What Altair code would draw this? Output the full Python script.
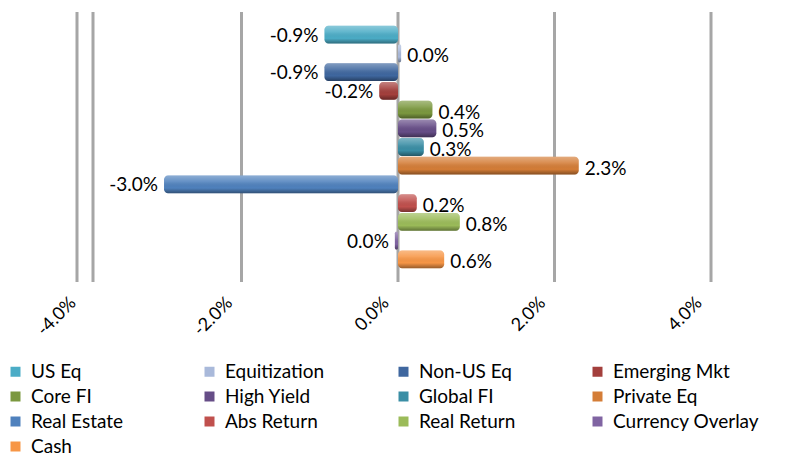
import altair as alt
import pandas as pd

categories = ["US Eq", "Equitization", "Non-US Eq", "Emerging Mkt", "Core FI",
              "High Yield", "Global FI", "Private Eq", "Real Estate", "Abs Return",
              "Real Return", "Currency Overlay", "Cash"]
values = [-0.0094, 0.0004, -0.0094, -0.0024, 0.0044, 0.0049, 0.0033, 0.0231,
          -0.0299, 0.0024, 0.0079, -0.0004, 0.0059]
labels = ["-0.9%", "0.0%", "-0.9%", "-0.2%", "0.4%", "0.5%", "0.3%", "2.3%",
          "-3.0%", "0.2%", "0.8%", "0.0%", "0.6%"]
colors = ["#4BACC6", "#A9B9DA", "#3F679F", "#A33F3C", "#7B983F", "#664D87",
          "#3A8EA5", "#D47D37", "#4F81BD", "#C0504D", "#9BBB59", "#8064A2", "#F79646"]
axis_ticks = [-0.04, -0.02, 0.0, 0.02, 0.04]

df = pd.DataFrame({"cat": categories, "val": values, "lab": labels})
df["side"] = ["neg" if v < 0 else "pos" for v in values]
grid_df = pd.DataFrame({"t": axis_ticks[1:]})
wall_df = pd.DataFrame({"t": axis_ticks[:1]})

FONT = "Lato"
GRID = "#a6a6a6"

xscale = alt.Scale(domain=[-0.04, 0.04], nice=False, zero=False)
x = alt.X("val:Q", scale=xscale,
          axis=alt.Axis(values=axis_ticks, title=None, domain=False,
                        labelExpr="(datum.value < 0 ? '-' : '') + format(abs(datum.value) * 100, '.1f') + '%'",
                        ticks=False, grid=False,
                        labelAngle=315, labelAlign="right", labelBaseline="middle",
                        labelFontSize=18, labelFont=FONT, labelColor="#000000",
                        labelPadding=18, labelOffset=-12))
y = alt.Y("cat:N", sort=categories, axis=None,
          scale=alt.Scale(paddingInner=0.05, paddingOuter=0.74))

grid = alt.Chart(grid_df).mark_rule(color=GRID, strokeWidth=3).encode(
    x=alt.X("t:Q", scale=xscale))
wall_l = alt.Chart(wall_df).mark_rule(color=GRID, strokeWidth=3, xOffset=-8).encode(
    x=alt.X("t:Q", scale=xscale))
wall_r = alt.Chart(wall_df).mark_rule(color=GRID, strokeWidth=3, xOffset=8).encode(
    x=alt.X("t:Q", scale=xscale))

bars = alt.Chart(df).mark_bar(cornerRadius=4).encode(
    x=x, x2=alt.datum(0), y=y,
    color=alt.Color("cat:N", sort=categories,
                    scale=alt.Scale(domain=categories, range=colors),
                    legend=alt.Legend(title=None, orient="none", legendX=-79, legendY=350,
                                      direction="horizontal",
                                      columns=4, gridAlign="all", columnPadding=22,
                                      rowPadding=5, symbolType="square", symbolSize=100,
                                      symbolStrokeWidth=0, labelFontSize=19, labelFont=FONT,
                                      labelColor="#000000", labelOffset=6, padding=0,
                                      labelLimit=300))
)

shade = alt.Chart(df).mark_bar(cornerRadius=4, color=alt.Gradient(
    gradient="linear",
    stops=[alt.GradientStop(offset=0, color="rgba(255,255,255,0.35)"),
           alt.GradientStop(offset=0.35, color="rgba(255,255,255,0.12)"),
           alt.GradientStop(offset=0.7, color="rgba(0,0,0,0.0)"),
           alt.GradientStop(offset=1, color="rgba(0,0,0,0.38)")],
    x1=0, x2=0, y1=0, y2=1)).encode(x=alt.X("val:Q"), x2=alt.datum(0), y=y)

text_pos = alt.Chart(df).transform_filter(alt.datum.side == "pos").mark_text(
    align="left", baseline="middle", dx=6, dy=3, fontSize=19, font=FONT, color="#000000"
).encode(x=alt.X("val:Q"), y=y, text="lab:N")

text_neg = alt.Chart(df).transform_filter(alt.datum.side == "neg").mark_text(
    align="right", baseline="middle", dx=-6, dy=1, fontSize=19, font=FONT, color="#000000"
).encode(x=alt.X("val:Q"), y=y, text="lab:N")

chart = alt.layer(grid, wall_l, wall_r, bars, shade, text_pos, text_neg).properties(
    width=626, height=270,
    autosize=alt.AutoSizeParams(type="none"),
    padding={"left": 77, "top": 4, "right": 72, "bottom": 174},
).configure_view(stroke=None)

chart.save("out.html", embed_options={"renderer": "svg", "actions": False})
